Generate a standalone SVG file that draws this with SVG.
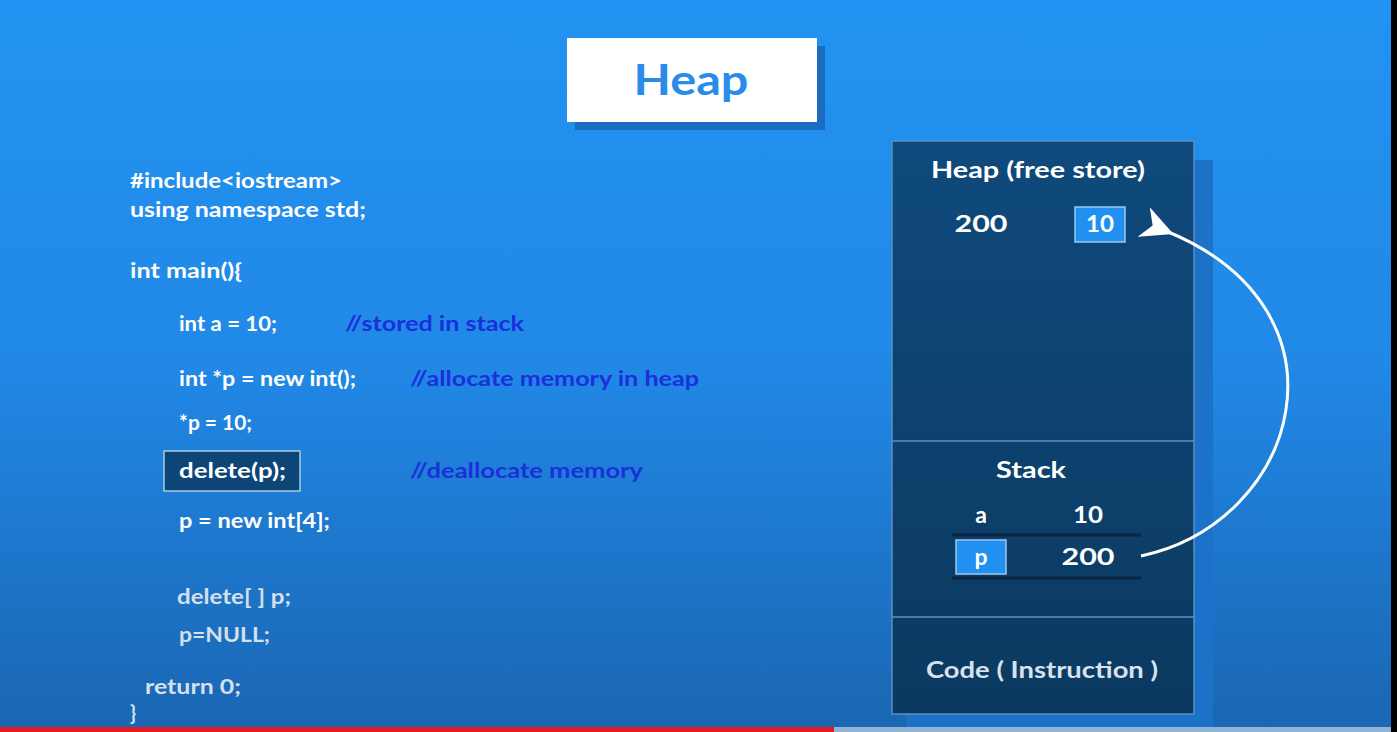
<svg xmlns="http://www.w3.org/2000/svg" width="1397" height="732" viewBox="0 0 1397 732">
  <defs>
    <linearGradient id="bg" x1="0" y1="0" x2="0" y2="1">
      <stop offset="0" stop-color="#2293f2"/>
      <stop offset="0.5" stop-color="#2188e6"/>
      <stop offset="1" stop-color="#1a66b2"/>
    </linearGradient>
    <linearGradient id="mem" x1="0" y1="0" x2="0" y2="1">
      <stop offset="0" stop-color="#0f4a7c"/>
      <stop offset="1" stop-color="#0b3960"/>
    </linearGradient>
    <marker id="head" viewBox="0 0 20 20" refX="5" refY="10" markerWidth="32" markerHeight="32" markerUnits="userSpaceOnUse" orient="auto">
      <path d="M0,10 L20,0 L14,10 L20,20 Z" fill="#ffffff"/>
    </marker>
    <style>
      .code { font-family: Lato, "Liberation Sans", sans-serif; font-weight: 700; font-size: 20px; fill: #ffffff; }
      .dim { fill: #d4e0ee; }
      .cmt { font-family: Lato, "Liberation Sans", sans-serif; font-weight: 700; font-size: 20px; fill: #1b2fdc; }
      .lbl { font-family: Lato, "Liberation Sans", sans-serif; font-weight: 700; font-size: 23px; fill: #ffffff; text-anchor: middle; }
      .cell { fill: #2290f0; stroke: #9cc8f0; stroke-width: 1.5; }
      .rule { stroke: #0a2442; stroke-width: 3; }
      .divider { stroke: #5c8fc2; stroke-width: 1.5; }
      .link { fill: none; stroke: #ffffff; stroke-width: 3; }
    </style>
  </defs>

  <!-- backdrop -->
  <rect x="0" y="0" width="1397" height="732" fill="url(#bg)"/>
  <rect x="1391" y="0" width="6" height="732" fill="#000000"/>

  <!-- title card -->
  <g id="title">
    <rect x="575" y="46" width="250" height="84" fill="#1b6dc2"/>
    <rect x="567" y="38" width="250" height="84" fill="#ffffff"/>
    <text x="691" y="95" text-anchor="middle" font-family="Lato, 'Liberation Sans', sans-serif" font-weight="700" font-size="42" fill="#2a8be8" textLength="115" lengthAdjust="spacingAndGlyphs">Heap</text>
  </g>

  <!-- source listing -->
  <g id="code">
    <text class="code" x="130" y="188" textLength="212" lengthAdjust="spacingAndGlyphs">#include&lt;iostream&gt;</text>
    <text class="code" x="130" y="217" textLength="236" lengthAdjust="spacingAndGlyphs">using namespace std;</text>
    <text class="code" x="130" y="278" textLength="112" lengthAdjust="spacingAndGlyphs">int main(){</text>
    <text class="code" x="179" y="331" textLength="98" lengthAdjust="spacingAndGlyphs">int a = 10;</text>
    <text class="cmt" x="345" y="331" textLength="179" lengthAdjust="spacingAndGlyphs">//stored in stack</text>
    <text class="code" x="179" y="386" textLength="177" lengthAdjust="spacingAndGlyphs">int *p = new int();</text>
    <text class="cmt" x="410" y="386" textLength="289" lengthAdjust="spacingAndGlyphs">//allocate memory in heap</text>
    <text class="code" x="179" y="430" textLength="73" lengthAdjust="spacingAndGlyphs">*p = 10;</text>
    <g id="current-line">
      <rect x="164" y="451" width="136" height="40" fill="#0d4577" stroke="#a8c8e6" stroke-width="1.5"/>
      <text class="code" x="179" y="478" textLength="107" lengthAdjust="spacingAndGlyphs">delete(p);</text>
    </g>
    <text class="cmt" x="410" y="478" textLength="233" lengthAdjust="spacingAndGlyphs">//deallocate memory</text>
    <text class="code" x="179" y="528" textLength="151" lengthAdjust="spacingAndGlyphs">p = new int[4];</text>
    <text class="code dim" x="177" y="604" textLength="114" lengthAdjust="spacingAndGlyphs">delete[ ] p;</text>
    <text class="code dim" x="179" y="642" textLength="91" lengthAdjust="spacingAndGlyphs">p=NULL;</text>
    <text class="code dim" x="145" y="694" textLength="96" lengthAdjust="spacingAndGlyphs">return 0;</text>
    <text class="code dim" x="130" y="720">}</text>
  </g>

  <!-- memory layout -->
  <g id="memory">
    <rect x="906" y="160" width="307" height="567" fill="#1c72c8"/>
    <rect x="892" y="141" width="302" height="573" fill="url(#mem)" stroke="#5a8fc4" stroke-width="1.5"/>
    <line class="divider" x1="892" y1="441" x2="1194" y2="441"/>
    <line class="divider" x1="892" y1="617" x2="1194" y2="617"/>
  </g>

  <g id="heap">
    <text class="lbl" x="1038" y="178" textLength="214" lengthAdjust="spacingAndGlyphs">Heap (free store)</text>
    <text class="lbl" x="981" y="232" textLength="53" lengthAdjust="spacingAndGlyphs">200</text>
    <rect class="cell" x="1075" y="207" width="50" height="35"/>
    <text class="lbl" x="1100" y="232" textLength="28" lengthAdjust="spacingAndGlyphs">10</text>
  </g>

  <g id="stack">
    <text class="lbl" x="1031" y="478" textLength="70" lengthAdjust="spacingAndGlyphs">Stack</text>
    <text class="lbl" x="981" y="523">a</text>
    <text class="lbl" x="1088" y="523" textLength="30" lengthAdjust="spacingAndGlyphs">10</text>
    <line class="rule" x1="952" y1="535" x2="1141" y2="535"/>
    <rect class="cell" x="956" y="540" width="50" height="34"/>
    <text class="lbl" x="981" y="565">p</text>
    <text class="lbl" x="1088" y="565" textLength="53" lengthAdjust="spacingAndGlyphs">200</text>
    <line class="rule" x1="952" y1="578" x2="1141" y2="578"/>
  </g>

  <g id="code-segment">
    <text class="lbl" x="1042" y="678" style="fill:#d8e2ee" textLength="232" lengthAdjust="spacingAndGlyphs">Code ( Instruction )</text>
  </g>

  <!-- pointer p -> heap cell -->
  <g id="connectors">
    <path class="link" d="M1141,556 C1300,522 1360,310 1166,231" marker-end="url(#head)"/>
  </g>

  <!-- playback bar -->
  <rect x="0" y="727" width="1391" height="5" fill="#8fb4d8"/>
  <rect x="0" y="727" width="834" height="5" fill="#e21b23"/>
</svg>
